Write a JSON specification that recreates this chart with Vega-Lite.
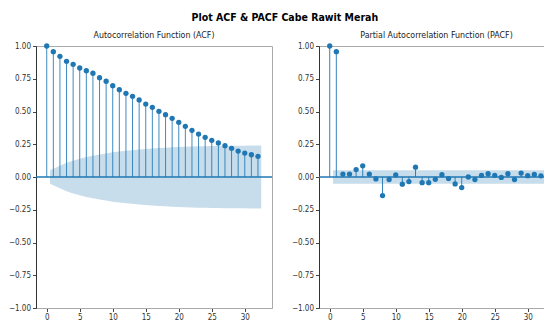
{
  "$schema": "https://vega.github.io/schema/vega-lite/v6.json",
  "background": "white",
  "padding": {"left": 0, "top": 13, "right": 0, "bottom": 0},
  "title": {"text": "Plot ACF & PACF Cabe Rawit Merah", "fontSize": 10.5, "font": "DejaVu Sans Condensed", "fontWeight": "bold", "anchor": "middle", "frame": "bounds", "offset": 7, "color": "#000", "dx": 11},
  "config": {
    "view": {"stroke": "#aaa", "strokeWidth": 1},
    "axis": {"grid": false, "labelFont": "DejaVu Sans Condensed", "labelFontSize": 8, "labelColor": "#333", "tickColor": "#444", "tickSize": 3.5, "labelPadding": 2, "title": null, "labelOverlap": false},
    "axisX": {"domainColor": "#aaa", "maxExtent": 14},
    "axisY": {"domainColor": "#333"},
    "title": {"font": "DejaVu Sans Condensed", "fontSize": 8.8, "fontWeight": "normal", "color": "#222", "offset": 2, "frame": "group"},
    "concat": {"spacing": 16}
  },
  "datasets": {
    "acf": [
      {"lag": 0, "value": 1.0}, {"lag": 1, "value": 0.957}, {"lag": 2, "value": 0.921}, {"lag": 3, "value": 0.883},
      {"lag": 4, "value": 0.86}, {"lag": 5, "value": 0.832}, {"lag": 6, "value": 0.811}, {"lag": 7, "value": 0.792},
      {"lag": 8, "value": 0.758}, {"lag": 9, "value": 0.731}, {"lag": 10, "value": 0.697}, {"lag": 11, "value": 0.666},
      {"lag": 12, "value": 0.639}, {"lag": 13, "value": 0.616}, {"lag": 14, "value": 0.588}, {"lag": 15, "value": 0.557},
      {"lag": 16, "value": 0.532}, {"lag": 17, "value": 0.501}, {"lag": 18, "value": 0.476}, {"lag": 19, "value": 0.448},
      {"lag": 20, "value": 0.417}, {"lag": 21, "value": 0.387}, {"lag": 22, "value": 0.356}, {"lag": 23, "value": 0.328},
      {"lag": 24, "value": 0.303}, {"lag": 25, "value": 0.28}, {"lag": 26, "value": 0.26}, {"lag": 27, "value": 0.239},
      {"lag": 28, "value": 0.219}, {"lag": 29, "value": 0.198}, {"lag": 30, "value": 0.183}, {"lag": 31, "value": 0.17},
      {"lag": 32, "value": 0.158}
    ],
    "acfband": [
      {"lag": 0.5, "lo": -0.051, "hi": 0.051}, {"lag": 2, "lo": -0.085, "hi": 0.085}, {"lag": 3, "lo": -0.108, "hi": 0.108},
      {"lag": 4, "lo": -0.125, "hi": 0.125}, {"lag": 5, "lo": -0.139, "hi": 0.139}, {"lag": 6, "lo": -0.152, "hi": 0.152},
      {"lag": 7, "lo": -0.162, "hi": 0.162}, {"lag": 8, "lo": -0.172, "hi": 0.172}, {"lag": 9, "lo": -0.18, "hi": 0.18},
      {"lag": 10, "lo": -0.188, "hi": 0.188}, {"lag": 11, "lo": -0.194, "hi": 0.194}, {"lag": 12, "lo": -0.2, "hi": 0.2},
      {"lag": 13, "lo": -0.205, "hi": 0.205}, {"lag": 14, "lo": -0.21, "hi": 0.21}, {"lag": 15, "lo": -0.214, "hi": 0.214},
      {"lag": 16, "lo": -0.218, "hi": 0.218}, {"lag": 17, "lo": -0.221, "hi": 0.221}, {"lag": 18, "lo": -0.224, "hi": 0.224},
      {"lag": 19, "lo": -0.227, "hi": 0.227}, {"lag": 20, "lo": -0.229, "hi": 0.229}, {"lag": 21, "lo": -0.231, "hi": 0.231},
      {"lag": 22, "lo": -0.233, "hi": 0.233}, {"lag": 23, "lo": -0.234, "hi": 0.234}, {"lag": 24, "lo": -0.235, "hi": 0.235},
      {"lag": 25, "lo": -0.236, "hi": 0.236}, {"lag": 26, "lo": -0.237, "hi": 0.237}, {"lag": 27, "lo": -0.238, "hi": 0.238},
      {"lag": 28, "lo": -0.238, "hi": 0.238}, {"lag": 29, "lo": -0.239, "hi": 0.239}, {"lag": 30, "lo": -0.239, "hi": 0.239},
      {"lag": 31, "lo": -0.24, "hi": 0.24}, {"lag": 32.5, "lo": -0.24, "hi": 0.24}
    ],
    "pacf": [
      {"lag": 0, "value": 1.0}, {"lag": 1, "value": 0.957}, {"lag": 2, "value": 0.022}, {"lag": 3, "value": 0.022},
      {"lag": 4, "value": 0.057}, {"lag": 5, "value": 0.085}, {"lag": 6, "value": 0.022}, {"lag": 7, "value": -0.015},
      {"lag": 8, "value": -0.142}, {"lag": 9, "value": -0.019}, {"lag": 10, "value": 0.017}, {"lag": 11, "value": -0.055},
      {"lag": 12, "value": -0.035}, {"lag": 13, "value": 0.075}, {"lag": 14, "value": -0.043}, {"lag": 15, "value": -0.043},
      {"lag": 16, "value": -0.018}, {"lag": 17, "value": 0.018}, {"lag": 18, "value": -0.012}, {"lag": 19, "value": -0.053},
      {"lag": 20, "value": -0.081}, {"lag": 21, "value": 0.0}, {"lag": 22, "value": -0.02}, {"lag": 23, "value": 0.012},
      {"lag": 24, "value": 0.025}, {"lag": 25, "value": 0.013}, {"lag": 26, "value": -0.003}, {"lag": 27, "value": 0.025},
      {"lag": 28, "value": -0.02}, {"lag": 29, "value": 0.03}, {"lag": 30, "value": 0.01}, {"lag": 31, "value": 0.02},
      {"lag": 32, "value": 0.009}
    ],
    "pacfband": [
      {"lag": 0.5, "lo": -0.051, "hi": 0.051}, {"lag": 32.5, "lo": -0.051, "hi": 0.051}
    ],
    "zero": [{"v": 0}]
  },
  "hconcat": [
    {
      "width": 236, "height": 262,
      "title": {"text": "Autocorrelation Function (ACF)"},
      "layer": [
        {
          "data": {"name": "acfband"},
          "mark": {"type": "area", "color": "#1f77b4", "opacity": 0.25},
          "encoding": {
            "x": {"field": "lag", "type": "quantitative", "scale": {"domain": [-1.625, 34.125], "nice": false, "zero": false},
                  "axis": {"values": [0, 5, 10, 15, 20, 25, 30], "labelOverlap": false}},
            "y": {"field": "lo", "type": "quantitative", "scale": {"domain": [-1, 1], "nice": false},
                  "axis": {"values": [-1, -0.75, -0.5, -0.25, 0, 0.25, 0.5, 0.75, 1], "format": ".2f", "labelOverlap": false, "minExtent": 35, "maxExtent": 35}},
            "y2": {"field": "hi"}
          }
        },
        {
          "data": {"name": "zero"},
          "mark": {"type": "rule", "color": "#1f77b4", "strokeWidth": 1.3},
          "encoding": {"y": {"field": "v", "type": "quantitative",
                  "axis": {"values": [-1, -0.75, -0.5, -0.25, 0, 0.25, 0.5, 0.75, 1], "format": ".2f", "labelOverlap": false, "minExtent": 35, "maxExtent": 35}}}
        },
        {
          "data": {"name": "acf"},
          "mark": {"type": "rule", "color": "#1f77b4", "strokeWidth": 1, "opacity": 0.85},
          "encoding": {
            "x": {"field": "lag", "type": "quantitative", "axis": {"values": [0, 5, 10, 15, 20, 25, 30], "labelOverlap": false}},
            "y": {"field": "value", "type": "quantitative",
                  "axis": {"values": [-1, -0.75, -0.5, -0.25, 0, 0.25, 0.5, 0.75, 1], "format": ".2f", "labelOverlap": false, "minExtent": 35, "maxExtent": 35}},
            "y2": {"datum": 0}
          }
        },
        {
          "data": {"name": "acf"},
          "mark": {"type": "point", "filled": true, "size": 28, "color": "#1f77b4", "opacity": 1},
          "encoding": {
            "x": {"field": "lag", "type": "quantitative", "axis": {"values": [0, 5, 10, 15, 20, 25, 30], "labelOverlap": false}},
            "y": {"field": "value", "type": "quantitative",
                  "axis": {"values": [-1, -0.75, -0.5, -0.25, 0, 0.25, 0.5, 0.75, 1], "format": ".2f", "labelOverlap": false, "minExtent": 35, "maxExtent": 35}}
          }
        }
      ]
    },
    {
      "width": 227, "height": 262,
      "title": {"text": "Partial Autocorrelation Function (PACF)", "dx": 4},
      "layer": [
        {
          "data": {"name": "pacfband"},
          "mark": {"type": "area", "color": "#1f77b4", "opacity": 0.25},
          "encoding": {
            "x": {"field": "lag", "type": "quantitative", "scale": {"domain": [-1.625, 32.77], "nice": false, "zero": false},
                  "axis": {"values": [0, 5, 10, 15, 20, 25, 30], "labelOverlap": false}},
            "y": {"field": "lo", "type": "quantitative", "scale": {"domain": [-1, 1], "nice": false},
                  "axis": {"values": [-1, -0.75, -0.5, -0.25, 0, 0.25, 0.5, 0.75, 1], "format": ".2f", "labelOverlap": false, "minExtent": 25, "maxExtent": 25}},
            "y2": {"field": "hi"}
          }
        },
        {
          "data": {"name": "zero"},
          "mark": {"type": "rule", "color": "#1f77b4", "strokeWidth": 1.3},
          "encoding": {"y": {"field": "v", "type": "quantitative",
                  "axis": {"values": [-1, -0.75, -0.5, -0.25, 0, 0.25, 0.5, 0.75, 1], "format": ".2f", "labelOverlap": false, "minExtent": 25, "maxExtent": 25}}}
        },
        {
          "data": {"name": "pacf"},
          "mark": {"type": "rule", "color": "#1f77b4", "strokeWidth": 1, "opacity": 0.9},
          "encoding": {
            "x": {"field": "lag", "type": "quantitative", "axis": {"values": [0, 5, 10, 15, 20, 25, 30], "labelOverlap": false}},
            "y": {"field": "value", "type": "quantitative",
                  "axis": {"values": [-1, -0.75, -0.5, -0.25, 0, 0.25, 0.5, 0.75, 1], "format": ".2f", "labelOverlap": false, "minExtent": 25, "maxExtent": 25}},
            "y2": {"datum": 0}
          }
        },
        {
          "data": {"name": "pacf"},
          "mark": {"type": "point", "filled": true, "size": 28, "color": "#1f77b4", "opacity": 1},
          "encoding": {
            "x": {"field": "lag", "type": "quantitative", "axis": {"values": [0, 5, 10, 15, 20, 25, 30], "labelOverlap": false}},
            "y": {"field": "value", "type": "quantitative",
                  "axis": {"values": [-1, -0.75, -0.5, -0.25, 0, 0.25, 0.5, 0.75, 1], "format": ".2f", "labelOverlap": false, "minExtent": 25, "maxExtent": 25}}
          }
        }
      ]
    }
  ]
}
